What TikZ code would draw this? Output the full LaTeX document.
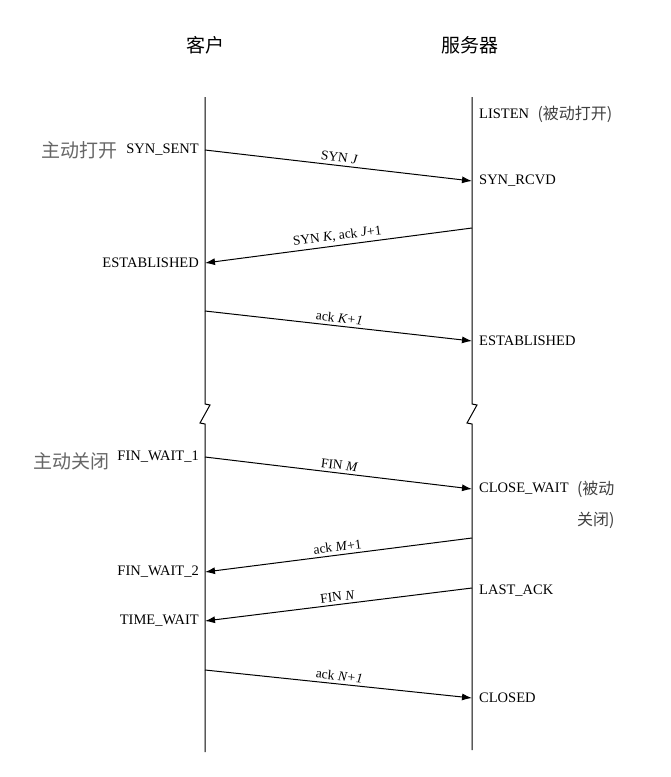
\documentclass[tikz,border=0pt]{standalone}
\usepackage{fontspec}
\setmainfont{Liberation Serif}
\newfontfamily\cjk{Noto Sans CJK SC}
\usetikzlibrary{arrows.meta,positioning}

\tikzset{
  life/.style={line width=1pt},
  msg/.style={line width=1pt,-{Latex[length=10pt,width=7pt]}},
  state/.style={font=\fontsize{14.5}{16}\selectfont,inner sep=1pt},
  tag/.style={font=\fontsize{13.5}{16}\selectfont,inner sep=3pt,sloped,above,midway},
  actor/.style={font=\cjk\fontsize{19}{22}\selectfont},
  note/.style={font=\cjk\fontsize{19}{22}\selectfont,text=black!60,inner sep=1pt},
  rnote/.style={font=\cjk\fontsize{16}{20}\selectfont,text=black!75,inner sep=1pt}
}

\begin{document}
\begin{tikzpicture}[x=1pt,y=-1pt]
  \useasboundingbox (0,0) rectangle (671,777);

  % the two ends
  \node[actor] (client) at (205,45) {客户};
  \node[actor] (server) at (470,45) {服务器};

  % lifelines, broken in the middle
  \coordinate (ctop) at (205,97);
  \coordinate (cbot) at (205,752);
  \coordinate (stop) at (472,97);
  \coordinate (sbot) at (472,750);
  \draw[life] (ctop) -- (205,404) -- ++(5,1) -- ++(-10,18) -- ++(5,1) -- (cbot);
  \draw[life] (stop) -- (472,404) -- ++(5,1) -- ++(-10,18) -- ++(5,1) -- (sbot);

  % points where the segments leave / arrive
  \coordinate (c1) at (205,150); \coordinate (s1) at (472,181);
  \coordinate (s2) at (472,228); \coordinate (c2) at (205,263);
  \coordinate (c3) at (205,311); \coordinate (s3) at (472,341);
  \coordinate (c4) at (205,457); \coordinate (s4) at (472,489);
  \coordinate (s5) at (472,538); \coordinate (c5) at (205,572);
  \coordinate (s6) at (472,588); \coordinate (c6) at (205,621);
  \coordinate (c7) at (205,670); \coordinate (s7) at (472,698);
  \coordinate (s0) at (472,114);

  % states of the client
  \node[state,left=5pt of c1] (synsent) {SYN\_SENT};
  \node[state,left=5pt of c2] (cestab) {ESTABLISHED};
  \node[state,left=5pt of c4] (finwait1) {FIN\_WAIT\_1};
  \node[state,left=5pt of c5] (finwait2) {FIN\_WAIT\_2};
  \node[state,left=5pt of c6] (timewait) {TIME\_WAIT};
  \node[note,left=6pt of synsent] (aopen) {主动打开};
  \node[note,left=6pt of finwait1,yshift=-4pt] (aclose) {主动关闭};

  % states of the server
  \node[state,right=6pt of s0] (listen) {LISTEN};
  \node[state,right=6pt of s1] (synrcvd) {SYN\_RCVD};
  \node[state,right=6pt of s3] (sestab) {ESTABLISHED};
  \node[state,right=6pt of s4] (closewait) {CLOSE\_WAIT};
  \node[state,right=6pt of s6,yshift=-3pt] (lastack) {LAST\_ACK};
  \node[state,right=6pt of s7] (closed) {CLOSED};
  \node[rnote,right=6pt of listen] (popen) {(被动打开)};
  \node[rnote,right=6pt of closewait] (pclose1) {(被动};
  \node[rnote,below=12pt of pclose1.south east,anchor=north east] (pclose2) {关闭)};

  % segments
  \draw[msg] (c1) -- (s1) node[tag] {SYN \textit{J}};
  \draw[msg] (s2) -- (c2) node[tag] {SYN \textit{K}, ack \textit{J}+1};
  \draw[msg] (c3) -- (s3) node[tag] {ack \textit{K+1}};
  \draw[msg] (c4) -- (s4) node[tag] {FIN \textit{M}};
  \draw[msg] (s5) -- (c5) node[tag] {ack \textit{M}+1};
  \draw[msg] (s6) -- (c6) node[tag] {FIN \textit{N}};
  \draw[msg] (c7) -- (s7) node[tag] {ack \textit{N+1}};
\end{tikzpicture}
\end{document}
